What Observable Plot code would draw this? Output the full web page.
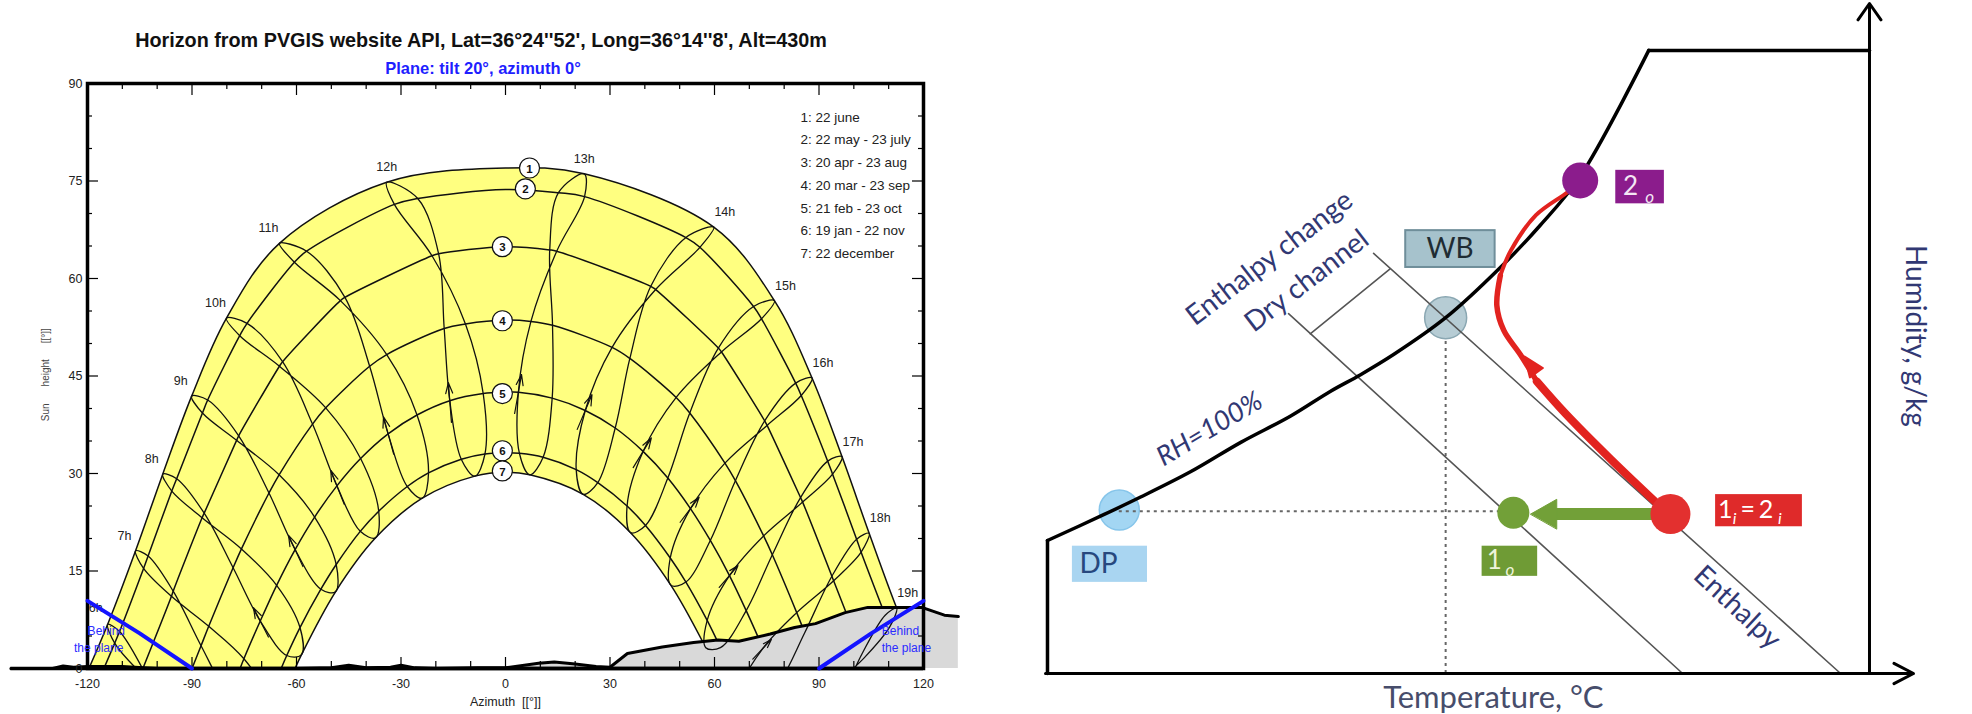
<!DOCTYPE html>
<html><head><meta charset="utf-8">
<script src="https://cdn.jsdelivr.net/npm/d3@7"></script>
<script src="https://cdn.jsdelivr.net/npm/@observablehq/plot@0.6"></script>
<style>
body{margin:0;background:#fff;width:1972px;height:714px;position:relative;overflow:hidden}
#left{position:absolute;left:0;top:0}
#right{position:absolute;left:1000px;top:0}
.t{position:absolute;text-align:center;font-family:"Liberation Sans",Arial,sans-serif;white-space:nowrap}
</style></head><body>
<div id="left"></div><div id="right"></div>
<div class="t" style="left:0;width:962px;top:28px;font-size:19.8px;font-weight:bold;line-height:24px;color:#111">Horizon from PVGIS website API, Lat=36°24''52', Long=36°14''8', Alt=430m</div>
<div class="t" style="left:0;width:966px;top:58px;font-size:16.5px;font-weight:bold;color:#1f1fff;line-height:20px">Plane: tilt 20°, azimuth 0°</div>
<script>
// ---------------- LEFT: sun path diagram ----------------
const hours = [6,7,8,9,10,11,12,13,14,15,16,17,18,19];
const dateNames = ["22 dec","19 jan","21 feb","20 mar","20 apr","22 may","22 jun","23 jul","23 aug","23 sep","23 oct","22 nov"];
// azimuth / sun height at each full hour (6h..19h) for each date
const azDec22 = [-75.1,-67.2,-58.6,-48.8,-37.3,-23.9,-8.8,7.0,22.3,35.9,47.5,57.5,66.3,74.2];
const altDec22 = [-20.1,-8.7,2.1,11.8,20.1,26.2,29.6,29.8,26.8,20.9,12.8,3.2,-7.4,-18.8];
const azJan19 = [-79.5,-71.4,-62.8,-53.0,-41.7,-28.2,-12.7,4.0,20.3,34.9,47.3,57.9,67.0,75.3];
const altJan19 = [-20.8,-9.2,2.0,12.2,21.1,28.0,32.2,33.1,30.6,25.0,17.0,7.4,-3.3,-14.7];
const azFeb21 = [-88.2,-79.5,-70.4,-60.4,-48.4,-33.7,-16.0,3.7,22.9,39.5,53.1,64.3,73.9,82.7];
const altFeb21 = [-16.3,-4.3,7.3,18.3,28.1,36.1,41.2,42.5,39.7,33.4,24.6,14.3,3.1,-8.8];
const azMar20 = [-96.4,-87.4,-78.2,-67.9,-55.4,-39.0,-17.6,7.3,30.6,49.0,63.0,74.1,83.6,92.6];
const altMar20 = [-8.6,3.5,15.5,27.0,37.6,46.5,52.3,53.4,49.4,41.7,31.6,20.4,8.6,-3.5];
const azApr20 = [-104.1,-95.4,-86.5,-76.6,-64.0,-46.1,-19.2,14.7,43.1,62.0,75.1,85.3,94.2,102.9];
const altApr20 = [-0.1,11.9,23.9,35.8,47.2,57.1,63.8,64.2,58.3,48.7,37.4,25.6,13.5,1.6];
const azMay22 = [-110.8,-102.6,-94.4,-85.5,-74.2,-57.1,-25.2,22.7,55.8,73.5,84.9,93.9,102.1,110.3];
const altMay22 = [5.7,17.3,29.2,41.3,53.1,64.2,72.3,72.6,64.8,53.8,42.0,29.9,17.9,6.4];
const azJun22 = [-114.2,-106.2,-98.4,-90.1,-80.1,-64.9,-34.1,22.6,59.8,77.2,88.0,96.6,104.4,112.3];
const altJun22 = [6.8,18.1,29.9,41.9,53.9,65.4,74.8,76.1,67.9,56.6,44.7,32.6,20.8,9.3];
const azJul23 = [-112.2,-103.9,-95.8,-87.0,-76.3,-60.6,-31.9,15.2,51.8,71.2,83.3,92.5,100.8,109.0];
const altJul23 = [3.9,15.4,27.3,39.3,51.2,62.5,71.4,73.2,66.3,55.7,43.9,31.9,19.9,8.2];
const azAug23 = [-104.7,-95.9,-87.1,-77.2,-64.9,-47.4,-21.1,12.7,41.7,61.1,74.4,84.7,93.7,102.4];
const altAug23 = [-0.7,11.1,23.2,35.1,46.5,56.6,63.5,64.4,58.8,49.3,38.1,26.3,14.2,2.3];
const azSep23 = [-94.1,-85.2,-75.8,-65.0,-51.6,-34.1,-11.5,13.5,35.7,52.9,66.0,76.6,85.9,94.8];
const altSep23 = [-5.5,6.5,18.4,29.8,40.1,48.3,53.0,52.8,47.7,39.3,28.9,17.5,5.5,-6.5];
const azOct23 = [-83.9,-75.1,-65.7,-54.8,-41.6,-25.4,-6.4,13.4,31.5,46.6,58.8,69.1,78.2,86.9];
const altOct23 = [-10.4,1.5,12.8,23.3,32.3,39.0,42.3,41.6,37.0,29.3,19.7,8.9,-2.7,-14.7];
const azNov22 = [-76.3,-68.0,-59.0,-48.6,-36.4,-22.1,-5.9,10.8,26.5,40.2,51.8,61.7,70.5,78.6];
const altNov22 = [-16.0,-4.5,6.3,16.0,24.2,30.1,33.0,32.5,28.6,22.0,13.3,3.2,-7.9,-19.5];
const curveOfDate = [7,6,5,4,3,2,1,2,3,4,5,6];
const meridianAlt = [77.0,73.7,64.9,53.6,42.5,33.2,30.2];
const riseAz = [119.6,115.3,104.1,90.0,76.2,64.4,60.4];
// hours whose late-february branch carries a direction arrow
const arrowHours = [8,9,10,11,12,13,14,15,16,17,18];
// horizon profile
const horAz = [-142,-130,-127,-124,-120,-110,-104,-100,-60,-50,-45,-40,-33,-30,-26,-20,-8,0,9.5,14,20,26,30,35,45,54,61,67,76,83,89,97.5,104,119.5,126,130];
const horAlt = [0,0,0.4,0.2,0.3,0.3,0.1,0,0,0.1,0.5,0.1,0.2,0.5,0.1,0,0.1,0.1,0.8,1.0,0.7,0.3,0.2,2.3,3.3,4.0,4.4,4.2,5.3,6.3,6.9,8.6,9.4,9.4,8.2,8.0];
// "behind the plane" limits
const behindLAz = [-120,-105,-90], behindLAlt = [10.4,5.4,0];
const behindRAz = [90,105,120], behindRAlt = [0,5.4,10.4];
// legend
const legendText = ["1: 22 june","2: 22 may - 23 july","3: 20 apr - 23 aug","4: 20 mar - 23 sep","5: 21 feb - 23 oct","6: 19 jan - 22 nov","7: 22 december"];
const legendAlt = [84.8,81.3,77.8,74.3,70.8,67.3,63.8];
const circleNum = [1,2,3,4,5,6,7];
const circleAz = [6.9,5.7,-0.9,-0.9,-0.9,-0.9,-0.9];
const circleAlt = [77.0,73.8,64.9,53.5,42.3,33.5,30.4];
const xTickLabels = [-120,-90,-60,-30,0,30,60,90,120];
const yTickLabels = [0,15,30,45,60,75,90];
const xMajor = [-90,-60,-30,0,30,60,90];
const xMinor = [-110,-100,-80,-70,-50,-40,-20,-10,10,20,40,50,70,80,100,110];
const yMajor = [15,30,45,60,75];
const yMinor = [5,10,20,25,35,40,50,55,65,70,80,85];

const dateAz = [azDec22,azJan19,azFeb21,azMar20,azApr20,azMay22,azJun22,azJul23,azAug23,azSep23,azOct23,azNov22];
const dateAlt = [altDec22,altJan19,altFeb21,altMar20,altApr20,altMay22,altJun22,altJul23,altAug23,altSep23,altOct23,altNov22];

const dayPts = [];
for (let k = 1; k <= 7; k++) {
  const pts = [];
  dateAz.forEach((azs, j) => {
    if (curveOfDate[j] !== k) return;
    azs.forEach((a, i) => { if (dateAlt[j][i] >= 0) pts.push({az: a, alt: dateAlt[j][i], k}); });
  });
  pts.push({az: 0, alt: meridianAlt[k-1], k});
  pts.push({az: -riseAz[k-1], alt: 0, k});
  pts.push({az: riseAz[k-1], alt: 0, k});
  pts.sort((a, b) => a.az - b.az);
  dayPts.push(...pts);
}
const dome1 = dayPts.filter(d => d.k === 1);
const dome7 = dayPts.filter(d => d.k === 7);
const hourPts = [];
hours.forEach((h, i) => dateAz.forEach((azs, j) => hourPts.push({az: azs[i], alt: dateAlt[j][i], h})));
// small direction arrows placed on the 21 feb -> 20 mar branch
const dirArrows = arrowHours.map(h => {
  const i = hours.indexOf(h);
  const a0 = azFeb21[i], h0 = altFeb21[i], a1 = azMar20[i], h1 = altMar20[i];
  return {x1: a0 - 0.3 * (a1 - a0), y1: h0 - 0.3 * (h1 - h0), x2: a0 + 0.25 * (a1 - a0), y2: h0 + 0.25 * (h1 - h0)};
});
const horizonPts = horAz.map((a, i) => ({az: a, alt: horAlt[i]}));
const behindPts = behindLAz.map((a,i)=>({az:a, alt:behindLAlt[i], s:"L"})).concat(behindRAz.map((a,i)=>({az:a, alt:behindRAlt[i], s:"R"})));
const hourLbl = hours.map((h, i) => ({t: h + "h", az: azJun22[i], alt: altJun22[i], h}));

const PXX = 3.483, PXY = 6.5; // pixels per degree (for tick lengths)
const ink = "#111";
const L = Plot.plot({
  width: 980, height: 714,
  marginLeft: 87, marginRight: 57, marginTop: 83, marginBottom: 46,
  x: {domain: [-120, 120], axis: null},
  y: {domain: [0, 90], axis: null},
  style: {fontFamily: "'Liberation Sans', Arial, sans-serif", background: "transparent", overflow: "visible"},
  marks: [
    Plot.line(dome1, {x: "az", y: "alt", curve: "catmull-rom", fill: "#ffff80", stroke: "none", clip: true}),
    Plot.line(dome7, {x: "az", y: "alt", curve: "catmull-rom", fill: "white", stroke: "none", clip: true}),
    Plot.line(dayPts, {x: "az", y: "alt", z: "k", curve: "catmull-rom", stroke: ink, strokeWidth: 1.5, clip: true}),
    Plot.areaY(horizonPts, {x: "az", y: "alt", fill: "#d9d9d9"}),
    Plot.line(hourPts, {x: "az", y: "alt", z: "h", curve: "catmull-rom-closed", stroke: ink, strokeWidth: 1.3, clip: true}),
    Plot.arrow(dirArrows, {x1: "x1", y1: "y1", x2: "x2", y2: "y2", stroke: ink, strokeWidth: 1.2, headLength: 14, headAngle: 36, clip: true}),
    Plot.line(horizonPts, {x: "az", y: "alt", stroke: "black", strokeWidth: 3}),
    Plot.ruleY([0], {x1: -142, x2: 120, stroke: "black", strokeWidth: 3.5}),
    Plot.frame({stroke: "black", strokeWidth: 3.5}),
    // ticks
    Plot.ruleX(xMajor, {x: d => d, y1: 90, y2: 90 - 12 / PXY, stroke: "black", strokeWidth: 1.2}),
    Plot.ruleX(xMinor, {x: d => d, y1: 90, y2: 90 - 6 / PXY, stroke: "black", strokeWidth: 1.2}),
    Plot.ruleX(xMajor, {x: d => d, y1: 0, y2: 11 / PXY, stroke: "black", strokeWidth: 1.2}),
    Plot.ruleX(xMinor, {x: d => d, y1: 0, y2: 7 / PXY, stroke: "black", strokeWidth: 1.2}),
    Plot.ruleY(yMajor, {y: d => d, x1: -120, x2: -120 + 11 / PXX, stroke: "black", strokeWidth: 1.2}),
    Plot.ruleY(yMinor, {y: d => d, x1: -120, x2: -120 + 5 / PXX, stroke: "black", strokeWidth: 1.2}),
    Plot.ruleY(yMajor, {y: d => d, x1: 120, x2: 120 - 11 / PXX, stroke: "black", strokeWidth: 1.2}),
    Plot.ruleY(yMinor, {y: d => d, x1: 120, x2: 120 - 5 / PXX, stroke: "black", strokeWidth: 1.2}),
    Plot.text(xTickLabels, {x: d => d, y: 0, dy: 15, text: d => String(d), fontSize: 12.5, fill: "#222"}),
    Plot.text(yTickLabels, {x: -120, y: d => d, dx: -5, text: d => String(d), textAnchor: "end", fontSize: 12.5, fill: "#222"}),
    Plot.text(["[[°]]", "height", "Sun"], {x: -120, y: [51.2, 45.5, 39.4], dx: -42, rotate: -90, text: d => d, fontSize: 10, fill: "#444"}),
    Plot.text(["Azimuth  [[°]]"], {x: 0, y: 0, dy: 33, text: d => d, fontSize: 12.5, fill: "#222"}),
    // hour labels
    Plot.text(hourLbl.filter(d => d.h === 6), {x: "az", y: "alt", text: "t", dx: -12, dy: -16, fontSize: 12.5, fill: "#222"}),
    Plot.text(hourLbl.filter(d => d.h > 6 && d.h < 12), {x: "az", y: "alt", text: "t", dx: -11, dy: -15, fontSize: 12.5, fill: "#222"}),
    Plot.text(hourLbl.filter(d => d.h >= 12 && d.h <= 13), {x: "az", y: "alt", text: "t", dx: 0, dy: -15, fontSize: 12.5, fill: "#222"}),
    Plot.text(hourLbl.filter(d => d.h > 13), {x: "az", y: "alt", text: "t", dx: 11, dy: -15, fontSize: 12.5, fill: "#222"}),
    // day-curve markers
    Plot.dot(circleNum, {x: (d, i) => circleAz[i], y: (d, i) => circleAlt[i], r: 10, fill: "white", stroke: ink, strokeWidth: 1.2}),
    Plot.text(circleNum, {x: (d, i) => circleAz[i], y: (d, i) => circleAlt[i], text: d => String(d), dy: 1, fontSize: 11.5, fontWeight: "bold", fill: "#111"}),
    // legend
    Plot.text(legendText, {x: 84.7, y: (d, i) => legendAlt[i], text: d => d, textAnchor: "start", fontSize: 13.5, fill: "#222"}),
    // behind the plane
    Plot.line(behindPts, {x: "az", y: "alt", z: "s", stroke: "#1414ff", strokeWidth: 4}),
    Plot.text(["Behind", "the plane"], {x: [-114.6, -116.8], y: [5.7, 3.1], text: d => d, fontSize: 12, fill: "#2b2bff"}),
    Plot.text(["Behind", "the plane"], {x: [113.4, 115.1], y: [5.7, 3.1], text: d => d, fontSize: 12, fill: "#2b2bff"})
  ]
});
document.getElementById("left").appendChild(L);

// ---------------- RIGHT: psychrometric schematic ----------------
// abstract units: temperature 0..100 (x), humidity 0..100 (y)
const satT = [0.23,6.7,10.9,16.7,22.5,28.2,32.8,36.3,40.1,46.1,52.4,57.0,61.6,69.5];
const satH = [19.85,23.7,26.3,30.1,34.5,38.4,42.1,44.6,47.6,53.1,60.6,66.9,74.2,93.0];
const leftWallT = [0.23,0.23], leftWallH = [0,19.85];
const topLineT = [69.5,94.93], topLineH = [93.0,93.0];
const enthA_T = [37.8,91.6], enthA_H = [62.7,0];
const enthB_T = [28.0,73.4], enthB_H = [53.7,0];
const bracketT = [30.5,39.7], bracketH = [50.7,60.4];
const redLowT = [71.6,65.1,59.9,56.6], redLowH = [24.0,32.0,38.8,43.6];
const redMidT = [56.6,54.7,52.8,52.0,52.4], redMidH = [43.6,47.6,51.2,54.9,59.4];
const redTopT = [52.4,53.6,56.5,60.1,61.3], redTopH = [59.4,63.1,68.4,71.8,73.2];
const redHeadT = [55.2,57.3,55.8], redHeadH = [47.3,45.6,44.2];
const greenBarT = [70.3,58.5], greenBarH = [23.8,23.8];
const greenHeadT = [55.9,58.9,58.9], greenHeadH = [23.8,26.0,21.6];
const pointNames = ["DP","WB","1o","1i=2i","2o"];
const pointT = [8.5,46.1,53.9,72.0,61.6];
const pointH = [24.4,53.1,24.0,23.8,73.6];
const boxNames = ["2o","WB","DP","1o","1i=2i"];
const boxT1 = [65.7,41.5,3.1,50.3,77.2], boxT2 = [71.3,51.8,11.75,56.7,87.2];
const boxH1 = [70.1,60.6,13.6,14.5,21.9], boxH2 = [75.1,66.1,19.0,19.0,26.7];
const axisLabels = ["Temperature, °C","Humidity, g/kg"];
const curveLabels = ["Enthalpy change","Dry channel","RH=100%","Enthalpy"];

const pts = (T, H) => T.map((t, i) => ({t, h: H[i]}));
const navy = "#313873";
const RED = "#e2231f", GREEN = "#72a038", PURPLE = "#8b1c8c";
const txt = (s, t, h, opts) => Plot.text([s], {x: () => t, y: () => h, text: d => d, ...opts});

const R = Plot.plot({
  width: 972, height: 714,
  marginLeft: 45, marginRight: 59, marginTop: 3, marginBottom: 41,
  x: {domain: [0, 100], axis: null},
  y: {domain: [0, 100], axis: null},
  style: {fontFamily: "Lato, 'Open Sans', sans-serif", background: "transparent", overflow: "visible"},
  marks: [
    // soft circles behind the lines
    Plot.dot([0], {x: pointT[0], y: pointH[0], r: 20, fill: "#a3d6f3", stroke: "#86c5ea", strokeWidth: 1.5}),
    Plot.dot([0], {x: pointT[1], y: pointH[1], r: 21, fill: "#b6ccd4", stroke: "#8aa7b2", strokeWidth: 1.5}),
    // dotted guides
    Plot.ruleX([pointT[1]], {y1: 0, y2: 50.0, stroke: "#666", strokeWidth: 2, strokeDasharray: "3,4"}),
    Plot.ruleY([24.2], {x1: pointT[0], x2: 52.4, stroke: "#666", strokeWidth: 2, strokeDasharray: "3,4"}),
    // enthalpy lines
    Plot.line(pts(enthA_T, enthA_H), {x: "t", y: "h", stroke: "#555", strokeWidth: 1.6}),
    Plot.line(pts(enthB_T, enthB_H), {x: "t", y: "h", stroke: "#555", strokeWidth: 1.6}),
    Plot.line(pts(bracketT, bracketH), {x: "t", y: "h", stroke: "#555", strokeWidth: 1.6}),
    // axes
    Plot.arrow([0], {x1: 0, y1: 0, x2: 100, y2: 0, stroke: "black", strokeWidth: 3, headLength: 11, headAngle: 55}),
    Plot.arrow([0], {x1: 94.93, y1: 0, x2: 94.93, y2: 100, stroke: "black", strokeWidth: 3, headLength: 10, headAngle: 70}),
    // saturation curve and boundary
    Plot.line(pts(leftWallT, leftWallH), {x: "t", y: "h", stroke: "black", strokeWidth: 3.5}),
    Plot.line(pts(satT, satH), {x: "t", y: "h", curve: "catmull-rom", stroke: "black", strokeWidth: 3.5}),
    Plot.line(pts(topLineT, topLineH), {x: "t", y: "h", stroke: "black", strokeWidth: 3.5}),
    // red process
    Plot.line(pts(redTopT, redTopH), {x: "t", y: "h", curve: "catmull-rom", stroke: RED, strokeWidth: 4}),
    Plot.line(pts(redMidT, redMidH), {x: "t", y: "h", curve: "catmull-rom", stroke: RED, strokeWidth: 5.5}),
    Plot.line(pts(redLowT, redLowH), {x: "t", y: "h", curve: "catmull-rom", stroke: RED, strokeWidth: 8}),
    Plot.line(pts(redHeadT, redHeadH), {x: "t", y: "h", curve: "linear-closed", fill: RED, stroke: RED, strokeWidth: 2}),
    // green process
    Plot.line(pts(greenBarT, greenBarH), {x: "t", y: "h", stroke: GREEN, strokeWidth: 12, strokeLinecap: "butt"}),
    Plot.line(pts(greenHeadT, greenHeadH), {x: "t", y: "h", curve: "linear-closed", fill: GREEN, stroke: GREEN, strokeWidth: 1}),
    // state points
    Plot.dot([0], {x: pointT[2], y: pointH[2], r: 16, fill: GREEN}),
    Plot.dot([0], {x: pointT[3], y: pointH[3], r: 20, fill: "#e3302f"}),
    Plot.dot([0], {x: pointT[4], y: pointH[4], r: 18, fill: PURPLE}),
    // label boxes
    Plot.rect([0], {x1: boxT1[0], x2: boxT2[0], y1: boxH1[0], y2: boxH2[0], fill: PURPLE}),
    Plot.rect([0], {x1: boxT1[1], x2: boxT2[1], y1: boxH1[1], y2: boxH2[1], fill: "#a6c2cc", stroke: "#6f8e9a", strokeWidth: 2}),
    Plot.rect([0], {x1: boxT1[2], x2: boxT2[2], y1: boxH1[2], y2: boxH2[2], fill: "#a9d5f1"}),
    Plot.rect([0], {x1: boxT1[3], x2: boxT2[3], y1: boxH1[3], y2: boxH2[3], fill: "#6f9b35"}),
    Plot.rect([0], {x1: boxT1[4], x2: boxT2[4], y1: boxH1[4], y2: boxH2[4], fill: "#df2a2a"}),
    // box texts
    txt("2", 67.4, 72.6, {fontSize: 26, fill: "#f4e6f4"}),
    txt("o", 69.6, 71.0, {fontSize: 17, fontStyle: "italic", fill: "#f4e6f4"}),
    txt("WB", 46.6, 63.3, {fontSize: 28, fill: "#1f2c33"}),
    txt("DP", 6.1, 16.3, {fontSize: 28, fill: "#27487e"}),
    txt("1", 51.7, 16.9, {fontSize: 26, fill: "#eef4dc"}),
    txt("o", 53.5, 15.4, {fontSize: 17, fontStyle: "italic", fill: "#eef4dc"}),
    txt("1", 78.3, 24.4, {fontSize: 25, fill: "white"}),
    txt("i", 79.4, 23.1, {fontSize: 16, fontStyle: "italic", fill: "white"}),
    txt("=", 80.9, 24.4, {fontSize: 25, fill: "white"}),
    txt("2", 83.0, 24.4, {fontSize: 25, fill: "white"}),
    txt("i", 84.6, 23.1, {fontSize: 16, fontStyle: "italic", fill: "white"}),
    // curve and axis labels
    txt(curveLabels[0], 25.8, 62.0, {fontSize: 28, rotate: -37.5, fill: navy}),
    txt(curveLabels[1], 30.1, 58.6, {fontSize: 28, rotate: -37.5, fill: navy}),
    txt(curveLabels[2], 18.9, 36.5, {fontSize: 27, rotate: -31, fontStyle: "italic", fill: navy}),
    txt(curveLabels[3], 79.7, 9.85, {fontSize: 28, rotate: 43, fill: navy}),
    txt(axisLabels[0], 51.6, -3.7, {fontSize: 31, fill: "#474d6b"}),
    txt(axisLabels[1], 100.2, 50.4, {fontSize: 28, rotate: 90, fill: navy})
  ]
});
document.getElementById("right").appendChild(R);
</script>
</body></html>
